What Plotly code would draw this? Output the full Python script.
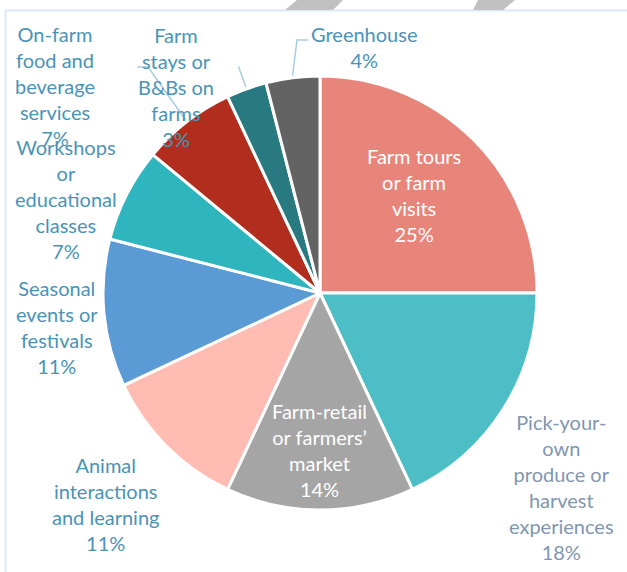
import math
import plotly.graph_objects as go

# ---- data ----
categories = [
    "Farm tours or farm visits",
    "Pick-your-own produce or harvest experiences",
    "Farm-retail or farmers’ market",
    "Animal interactions and learning",
    "Seasonal events or festivals",
    "Workshops or educational classes",
    "On-farm food and beverage services",
    "Farm stays or B&Bs on farms",
    "Greenhouse",
]
label_lines = [
    "Farm tours<br>or farm<br>visits",
    "Pick-your-<br>own<br>produce or<br>harvest<br>experiences",
    "Farm-retail<br>or farmers’<br>market",
    "Animal<br>interactions<br>and learning",
    "Seasonal<br>events or<br>festivals",
    "Workshops<br>or<br>educational<br>classes",
    "On-farm<br>food and<br>beverage<br>services",
    "Farm<br>stays or<br>B&Bs on<br>farms",
    "Greenhouse",
]
values = [25, 18, 14, 11, 11, 7, 7, 3, 4]
colors = ["#E8857A", "#4DBEC6", "#A5A5A5", "#FFBCB3", "#5B9BD5",
          "#2FB5BE", "#B12E1F", "#287A80", "#636363"]

# label placement (pixel positions of label block centres)
label_pos = [(414, 195), (561, 487), (319, 450), (105, 504), (57, 327),
             (66, 199), (55, 86), (176, 87), (364, 47)]
label_colors = ["#FFFFFF", "#8196B1", "#FFFFFF", "#4A93B7", "#4A93B7",
                "#4A93B7", "#4A93B7", "#4A93B7", "#4A93B7"]

W, H = 627, 572
CX, CY, R = 320, 293, 217


def px(x):
    return x / W


def py(y):
    return 1 - y / H


fig = go.Figure(go.Pie(
    labels=categories,
    values=values,
    sort=False,
    direction="clockwise",
    rotation=0,
    textinfo="none",
    hoverinfo="label+percent",
    marker=dict(colors=colors, line=dict(color="white", width=3)),
    domain=dict(x=[px(CX - R), px(CX + R)], y=[py(CY + R), py(CY - R)]),
    showlegend=False,
))

total = sum(values)
annotations = []
for i, (txt, (lx, ly)) in enumerate(zip(label_lines, label_pos)):
    pct = round(100 * values[i] / total)
    annotations.append(dict(
        x=px(lx), y=py(ly), xref="paper", yref="paper",
        text=f"{txt}<br>{pct}%", showarrow=False,
        xanchor="center", yanchor="middle", align="center",
        font=dict(family="Lato, Open Sans, sans-serif", size=20,
                  color=label_colors[i]),
    ))

# leader lines computed from slice mid angles
cum = []
acc = 0
for v in values:
    cum.append((acc + v / 2) / total * 2 * math.pi)
    acc += v


def edge(i, r):
    a = cum[i]
    return CX + r * math.sin(a), CY - r * math.cos(a)


lead_col = "#A8CDE0"
shapes = []


def path_from(points):
    return "M " + " L ".join(f"{px(x):.5f},{py(y):.5f}" for x, y in points)


# On-farm food
p0 = edge(6, 219)
shapes.append(dict(type="path", xref="paper", yref="paper",
                   path=path_from([p0, (148, 67), (137, 67)]),
                   line=dict(color=lead_col, width=1.5)))
# Farm stays
shapes.append(dict(type="path", xref="paper", yref="paper",
                   path=path_from([edge(7, 219), edge(7, 241)]),
                   line=dict(color=lead_col, width=1.5)))
# Greenhouse
g0 = edge(8, 219)
shapes.append(dict(type="path", xref="paper", yref="paper",
                   path=path_from([g0, (297, 40), (308, 40)]),
                   line=dict(color=lead_col, width=1.5)))

# frame lines
shapes.append(dict(type="line", xref="paper", yref="paper",
                   x0=px(5), x1=px(627), y0=py(10.5), y1=py(10.5),
                   line=dict(color="#DCEAF3", width=2)))
shapes.append(dict(type="line", xref="paper", yref="paper",
                   x0=px(5.5), x1=px(5.5), y0=py(10), y1=py(572),
                   line=dict(color="#DCEAF3", width=2)))
# gray stripes at top
for poly in [[(285, 10), (297, 0), (343, 0), (333, 10)],
             [(473, 10), (478, 0), (515, 0), (503, 10)]]:
    shapes.append(dict(type="path", xref="paper", yref="paper",
                       path=path_from(poly) + " Z",
                       fillcolor="#C0C0C0", line=dict(width=0)))

fig.update_layout(
    width=W, height=H,
    margin=dict(l=0, r=0, t=0, b=0),
    paper_bgcolor="white", plot_bgcolor="white",
    annotations=annotations, shapes=shapes,
)
fig.write_html("out.html")
